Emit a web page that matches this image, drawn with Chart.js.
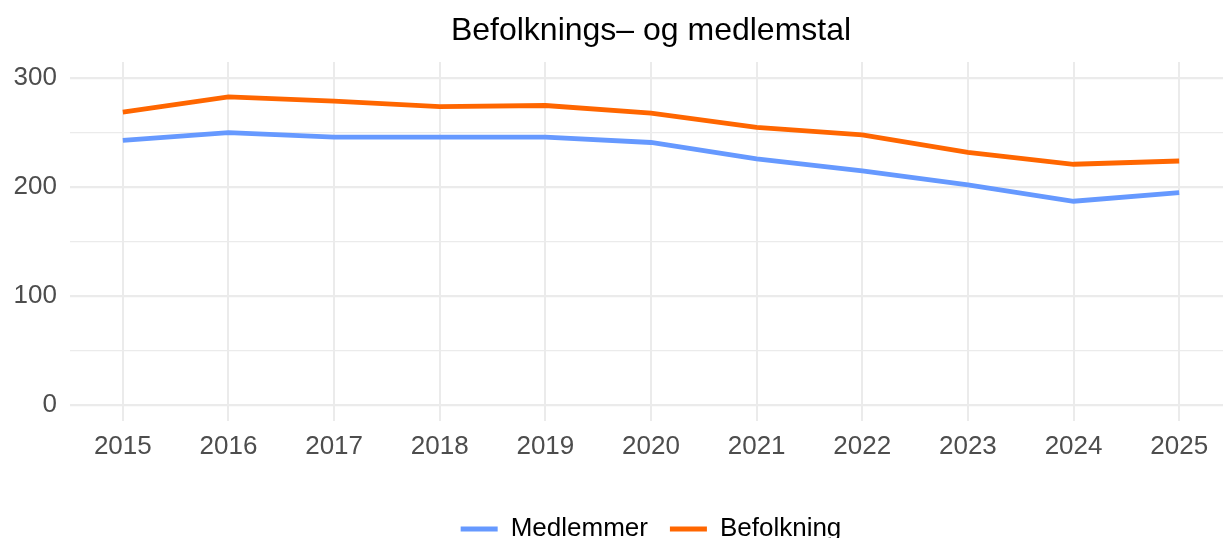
<!DOCTYPE html>
<html>
<head>
<meta charset="utf-8">
<script src="https://cdn.jsdelivr.net/npm/chart.js@4/dist/chart.umd.min.js"></script>
<style>
  html, body { margin: 0; padding: 0; overflow: hidden; background: #fff; }
  #wrap { position: relative; width: 1232px; height: 552px; }
</style>
</head>
<body>
<div id="wrap"><canvas id="c"></canvas></div>
<script>
const YEARS = [2015, 2016, 2017, 2018, 2019, 2020, 2021, 2022, 2023, 2024, 2025]
const MEDLEMMER = [243, 250, 246, 246, 246, 241, 226, 215, 202, 187, 195]
const BEFOLKNING = [269, 283, 279, 274, 275, 268, 255, 248, 232, 221, 224]
const Y_MAJOR = [0, 100, 200, 300]
const Y_MINOR = [50, 150, 250]

const BLUE = '#6699FF'
const ORANGE = '#FF6600'
const GRID = '#EBEBEB'
const TICK = '#4D4D4D'
const FONT = "'Liberation Sans', Arial, Helvetica, sans-serif"

Chart.defaults.font.family = FONT

const series = [
  { label: 'Medlemmer', values: MEDLEMMER, color: BLUE },
  { label: 'Befolkning', values: BEFOLKNING, color: ORANGE },
]

new Chart(document.getElementById('c'), {
  type: 'line',
  data: {
    datasets: series.map(s => ({
      label: s.label,
      data: YEARS.map((y, i) => ({ x: y, y: s.values[i] })),
      borderColor: s.color,
      backgroundColor: s.color,
      borderWidth: 4.8,
      pointRadius: 0,
      tension: 0,
      fill: false,
    })),
  },
  options: {
    responsive: true,
    maintainAspectRatio: false,
    animation: false,
    layout: { padding: 0 },
    scales: {
      x: {
        type: 'linear',
        min: 2014.5,
        max: 2025.5,
        afterBuildTicks: (axis) => { axis.ticks = YEARS.map(v => ({ value: v })) },
        afterFit: (axis) => { axis.height = 73 },
        border: { display: false },
        grid: { color: GRID, lineWidth: 2, drawTicks: false },
        ticks: {
          color: TICK,
          font: { size: 26 },
          padding: 10,
          maxRotation: 0,
          callback: (v) => String(v),
        },
      },
      y: {
        min: -15,
        max: 315,
        afterBuildTicks: (axis) => {
          axis.ticks = [...Y_MAJOR, ...Y_MINOR].sort((a, b) => a - b).map(v => ({ value: v }))
        },
        afterFit: (axis) => { axis.width = 70 },
        border: { display: false },
        grid: {
          color: GRID,
          drawTicks: false,
          lineWidth: (ctx) => Y_MAJOR.includes(ctx.tick && ctx.tick.value) ? 2.2 : 1.2,
        },
        ticks: {
          color: TICK,
          font: { size: 26 },
          padding: 13,
          callback: (v) => Y_MAJOR.includes(v) ? String(v) : '',
        },
      },
    },
    plugins: {
      title: {
        display: true,
        text: 'Befolknings\u2013 og medlemstal',
        color: '#000',
        fullSize: false,
        font: { size: 32, weight: 'normal' },
        padding: { top: 12, bottom: 11.6 },
      },
      legend: {
        position: 'bottom',
        fullSize: false,
        labels: {
          color: '#000',
          font: { size: 26 },
          boxWidth: 37,
          boxHeight: 5,
          padding: 22,
          generateLabels: (chart) => chart.data.datasets.map((ds, i) => ({
            text: ds.label,
            fillStyle: ds.borderColor,
            strokeStyle: ds.borderColor,
            lineWidth: 0,
            hidden: false,
            datasetIndex: i,
          })),
        },
      },
      tooltip: { enabled: false },
    },
  },
})
</script>
</body>
</html>
